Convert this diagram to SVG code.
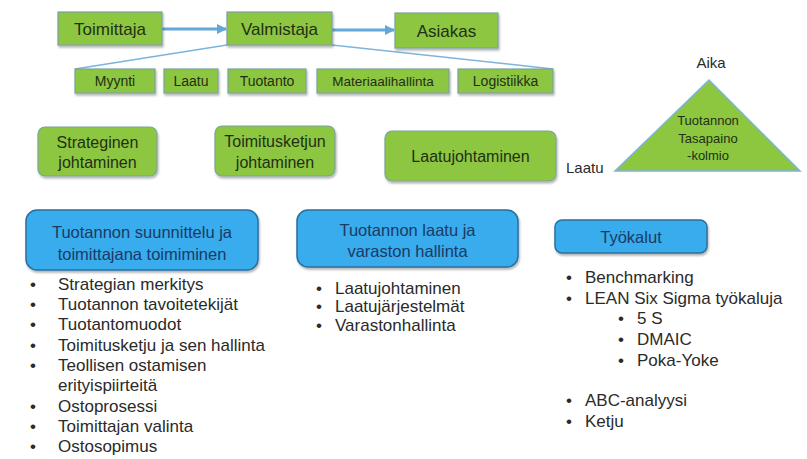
<svg xmlns="http://www.w3.org/2000/svg" width="807" height="459" viewBox="0 0 807 459">
<style>
.g{fill:#8dc63f;stroke:#7aa3a0;stroke-width:1.2}
.b{fill:#38acec;stroke:#2a6f9e;stroke-width:1.5}
.gt{font-family:"Liberation Sans",Arial,sans-serif;fill:#1f3016;text-anchor:middle}
.bt{font-family:"Liberation Sans",Arial,sans-serif;fill:#1b3a66;text-anchor:middle;font-size:16.5px}
.lt{font-family:"Liberation Sans",Arial,sans-serif;fill:#2a2a2a;font-size:17px}
.con{stroke:#62a8d8;stroke-width:3;fill:none}
.thin{stroke:#7db4dc;stroke-width:1.5;fill:none}
</style>
<defs>
<filter id="sh" x="-10%" y="-10%" width="130%" height="140%"><feDropShadow dx="1" dy="2" stdDeviation="1.2" flood-color="#000" flood-opacity="0.3"/></filter>
<marker id="ar" viewBox="0 0 10 10" refX="9" refY="5" markerWidth="3.5" markerHeight="3.5" orient="auto"><path d="M0,0L10,5L0,10z" fill="#62a8d8"/></marker>
</defs>
<rect width="807" height="459" fill="#ffffff"/>
<g id="connectors">
<line class="con" x1="162" y1="29" x2="226" y2="29" marker-end="url(#ar)"/>
<line class="con" x1="332" y1="30" x2="394" y2="30" marker-end="url(#ar)"/>
<line class="thin" x1="227" y1="45" x2="75" y2="69"/>
<line class="thin" x1="332" y1="45" x2="553" y2="69"/>
</g>
<g id="toimittaja"><rect class="g" x="58" y="12" width="104" height="33" filter="url(#sh)"/><text class="gt" x="110" y="34.5" font-size="17">Toimittaja</text></g>
<g id="valmistaja"><rect class="g" x="227" y="12" width="105" height="33" filter="url(#sh)"/><text class="gt" x="279.5" y="34.5" font-size="17">Valmistaja</text></g>
<g id="asiakas"><rect class="g" x="395" y="13" width="103" height="35" filter="url(#sh)"/><text class="gt" x="446.5" y="36.5" font-size="17">Asiakas</text></g>
<g id="myynti"><rect class="g" x="75" y="69" width="80" height="24" filter="url(#sh)"/><text class="gt" x="115" y="86" font-size="14">Myynti</text></g>
<g id="laatu"><rect class="g" x="164" y="69" width="54" height="24" filter="url(#sh)"/><text class="gt" x="191" y="86" font-size="14">Laatu</text></g>
<g id="tuotanto"><rect class="g" x="228" y="69" width="78" height="24" filter="url(#sh)"/><text class="gt" x="267" y="86" font-size="14">Tuotanto</text></g>
<g id="materiaalihallinta"><rect class="g" x="317" y="69" width="132" height="24" filter="url(#sh)"/><text class="gt" x="383" y="86" font-size="13.5">Materiaalihallinta</text></g>
<g id="logistiikka"><rect class="g" x="458" y="69" width="95" height="24" filter="url(#sh)"/><text class="gt" x="505.5" y="86" font-size="14">Logistiikka</text></g>
<g id="strateginen"><rect class="g" x="38" y="127" width="119" height="49" rx="7" filter="url(#sh)"/><text class="gt" x="97.5" y="148" font-size="16">Strateginen</text><text class="gt" x="97.5" y="168" font-size="16">johtaminen</text></g>
<g id="toimitusketjun"><rect class="g" x="215" y="126" width="120" height="50" rx="7" filter="url(#sh)"/><text class="gt" x="275" y="147" font-size="16">Toimitusketjun</text><text class="gt" x="275" y="168" font-size="16">johtaminen</text></g>
<g id="laatujohtaminen"><rect class="g" x="385" y="131" width="171" height="50" rx="7" filter="url(#sh)"/><text class="gt" x="470.5" y="162" font-size="16">Laatujohtaminen</text></g>
<g id="kolmio">
<polygon points="709,80 615,171 800,171" fill="#8dc63f" stroke="#7db4dc" stroke-width="1.5"/>
<text class="gt" x="708" y="125" font-size="13">Tuotannon</text>
<text class="gt" x="708" y="143" font-size="13">Tasapaino</text>
<text class="gt" x="708" y="160" font-size="13">-kolmio</text>
<text x="711" y="68" font-family="Liberation Sans,Arial,sans-serif" font-size="15" fill="#2a2a2a" text-anchor="middle">Aika</text>
<text x="566" y="173" font-family="Liberation Sans,Arial,sans-serif" font-size="15" fill="#2a2a2a">Laatu</text>
</g>
<g id="suunnittelu"><rect class="b" x="26" y="210" width="232" height="60" rx="11" filter="url(#sh)"/><text class="bt" x="142" y="238">Tuotannon suunnittelu ja</text><text class="bt" x="142" y="260">toimittajana toimiminen</text></g>
<g id="laatuvarasto"><rect class="b" x="297" y="210" width="221" height="57" rx="11" filter="url(#sh)"/><text class="bt" x="407.5" y="236">Tuotannon laatu ja</text><text class="bt" x="407.5" y="257">varaston hallinta</text></g>
<g id="tyokalut"><rect class="b" x="555" y="220" width="152" height="33" rx="7" filter="url(#sh)"/><text class="bt" x="631" y="242.5">Työkalut</text></g>
<g id="list1" class="lt">
<text x="30" y="290">•</text><text x="58" y="290">Strategian merkitys</text>
<text x="30" y="310">•</text><text x="58" y="310">Tuotannon tavoitetekijät</text>
<text x="30" y="330">•</text><text x="58" y="330">Tuotantomuodot</text>
<text x="30" y="351">•</text><text x="58" y="351">Toimitusketju ja sen hallinta</text>
<text x="30" y="371">•</text><text x="58" y="371">Teollisen ostamisen</text>
<text x="58" y="391">erityispiirteitä</text>
<text x="30" y="412">•</text><text x="58" y="412">Ostoprosessi</text>
<text x="30" y="432">•</text><text x="58" y="432">Toimittajan valinta</text>
<text x="30" y="452">•</text><text x="58" y="452">Ostosopimus</text>
</g>
<g id="list2" class="lt">
<text x="316" y="294">•</text><text x="335" y="294">Laatujohtaminen</text>
<text x="316" y="312">•</text><text x="335" y="312">Laatujärjestelmät</text>
<text x="316" y="331">•</text><text x="335" y="331">Varastonhallinta</text>
</g>
<g id="list3" class="lt">
<text x="566" y="283">•</text><text x="585" y="283">Benchmarking</text>
<text x="566" y="304">•</text><text x="585" y="304">LEAN Six Sigma työkaluja</text>
<text x="618" y="324">•</text><text x="637" y="324">5 S</text>
<text x="618" y="345">•</text><text x="637" y="345">DMAIC</text>
<text x="618" y="366">•</text><text x="637" y="366">Poka-Yoke</text>
<text x="566" y="406">•</text><text x="585" y="406">ABC-analyysi</text>
<text x="566" y="427">•</text><text x="585" y="427">Ketju</text>
</g>
</svg>
